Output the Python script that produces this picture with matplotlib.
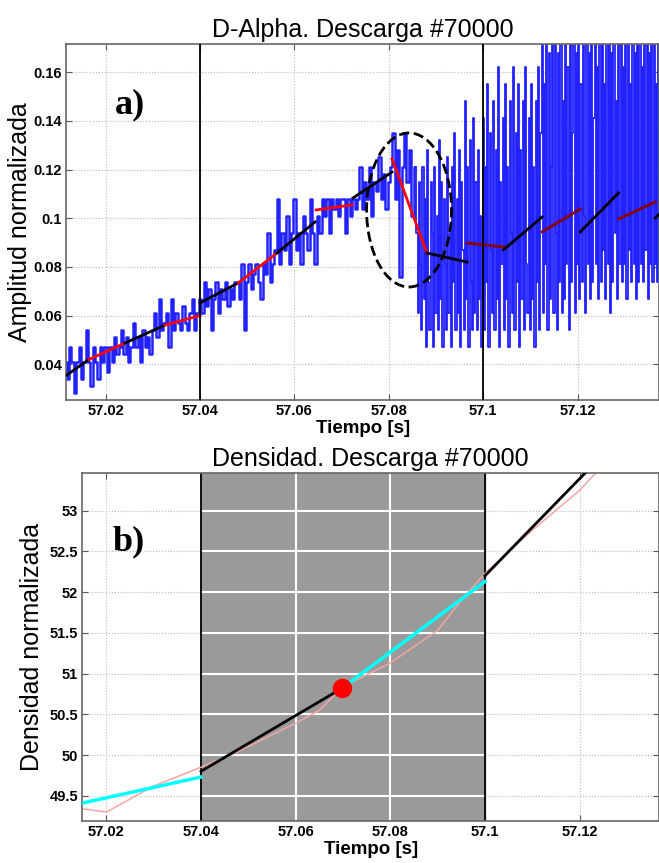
import numpy as np
import matplotlib.pyplot as plt
from matplotlib.patches import Ellipse

plt.rcParams['font.family'] = ['Liberation Sans', 'DejaVu Sans']

# ---- datos panel a) : D-Alpha, tramo inicial (cada 0.5 ms desde 57.0115 s)
t_start = 57.0115
dt = 0.0005
dalpha_a = [0.041, 0.034, 0.047, 0.041, 0.028, 0.041, 0.047, 0.034, 0.041, 0.054,
            0.041, 0.031, 0.047, 0.041, 0.034, 0.047, 0.041]
dalpha_b = [0.047, 0.037, 0.047, 0.041, 0.051, 0.044, 0.047, 0.054, 0.044, 0.051,
            0.041, 0.047, 0.057, 0.047, 0.051, 0.041, 0.054, 0.047, 0.051, 0.044]
dalpha_c = [0.054, 0.061, 0.051, 0.067, 0.054, 0.057, 0.061, 0.047, 0.067, 0.054,
            0.061, 0.057, 0.054, 0.064, 0.057, 0.054, 0.061, 0.067, 0.054, 0.061]
dalpha_d = [0.067, 0.061, 0.074, 0.064, 0.071, 0.054, 0.067, 0.074, 0.061, 0.071,
            0.067, 0.074, 0.064, 0.071, 0.067, 0.074]
dalpha_e = [0.074, 0.067, 0.081, 0.054, 0.074, 0.081, 0.071, 0.077, 0.081, 0.074,
            0.067, 0.081, 0.077, 0.094, 0.074, 0.081]
dalpha_f = [0.087, 0.108, 0.081, 0.094, 0.087, 0.101, 0.081, 0.094, 0.108, 0.087,
            0.094, 0.081, 0.101, 0.094, 0.087, 0.108, 0.094, 0.081, 0.101, 0.094]
dalpha_g = [0.108, 0.101, 0.108, 0.094, 0.108, 0.104, 0.108, 0.101, 0.108, 0.108,
            0.094, 0.108, 0.101, 0.108, 0.104]
dalpha_h = [0.108, 0.121, 0.104, 0.115, 0.108, 0.121, 0.101, 0.115, 0.111, 0.125,
            0.108, 0.118, 0.104, 0.115]
dalpha_i = [0.121, 0.135, 0.108, 0.128, 0.076, 0.121, 0.135, 0.115, 0.128, 0.101, 0.121]

# tramo turbulento (cada 0.25 ms desde 57.0860 s)
t_late = 57.0860
dt_late = 0.00025
dalpha_j = [0.094, 0.061, 0.115, 0.081, 0.054, 0.121, 0.067, 0.108, 0.047, 0.128,
            0.074, 0.054, 0.115, 0.094, 0.047, 0.121, 0.061, 0.101, 0.054, 0.132,
            0.067, 0.115, 0.047, 0.108, 0.081, 0.054, 0.125, 0.061, 0.094, 0.047,
            0.121, 0.074, 0.135, 0.054, 0.108, 0.061, 0.128, 0.047, 0.115, 0.087,
            0.054, 0.148, 0.067, 0.121, 0.047, 0.132, 0.074, 0.054, 0.141, 0.061,
            0.115, 0.054, 0.128, 0.067, 0.101, 0.047]
dalpha_k = [0.141, 0.054, 0.121, 0.074, 0.155, 0.047, 0.135, 0.087, 0.061, 0.148,
            0.054, 0.128, 0.067, 0.162, 0.047, 0.115, 0.081, 0.141, 0.054, 0.155,
            0.067, 0.121, 0.047, 0.148, 0.094, 0.061, 0.162, 0.054, 0.135, 0.074,
            0.155, 0.047, 0.128, 0.067, 0.148, 0.054, 0.162, 0.081, 0.061, 0.141,
            0.054, 0.155, 0.067, 0.121, 0.047, 0.148, 0.074, 0.162, 0.054, 0.135]
dalpha_l = [0.175, 0.061, 0.155, 0.081, 0.175, 0.054, 0.168, 0.067, 0.121, 0.175,
            0.061, 0.175, 0.094, 0.054, 0.168, 0.074, 0.175, 0.061, 0.148, 0.067,
            0.175, 0.081, 0.162, 0.054, 0.175, 0.074, 0.135, 0.175, 0.061, 0.168,
            0.081, 0.175, 0.067, 0.155, 0.074, 0.175, 0.101, 0.061, 0.175, 0.081,
            0.168, 0.067, 0.175, 0.074, 0.141, 0.175, 0.081, 0.162, 0.067, 0.175,
            0.074, 0.175, 0.087, 0.155, 0.067, 0.175, 0.081, 0.175, 0.061, 0.168,
            0.074, 0.175, 0.094, 0.148, 0.067, 0.175, 0.081, 0.175, 0.074, 0.162,
            0.081, 0.175, 0.067, 0.175, 0.087, 0.155, 0.074, 0.175, 0.081, 0.168,
            0.067, 0.175, 0.074, 0.175, 0.081, 0.162, 0.074, 0.175, 0.087, 0.175,
            0.067, 0.168, 0.081, 0.175, 0.074, 0.175, 0.081, 0.155, 0.074, 0.175]

# tramos de ajuste lineal (inicio, fin)
fit_t0 = [57.0118, 57.0165, 57.0241, 57.0326, 57.0400, 57.0481, 57.0563, 57.0646, 57.0724,
          57.0807, 57.0881, 57.0966, 57.1043, 57.1125, 57.1206, 57.1287, 57.1365]
fit_t1 = [57.0165, 57.0241, 57.0326, 57.0400, 57.0481, 57.0563, 57.0644, 57.0722, 57.0807,
          57.0881, 57.0966, 57.1043, 57.1125, 57.1206, 57.1287, 57.1365, 57.1380]
fit_y0 = [0.0356, 0.0420, 0.0487, 0.0561, 0.0652, 0.0734, 0.0857, 0.1034, 0.1083,
          0.1244, 0.0857, 0.0898, 0.0870, 0.0944, 0.0944, 0.0997, 0.1001]
fit_y1 = [0.0420, 0.0487, 0.0561, 0.0600, 0.0734, 0.0857, 0.0985, 0.1055, 0.1190,
          0.0857, 0.0820, 0.0882, 0.1005, 0.1038, 0.1104, 0.1067, 0.1030]
fit_col = ['k', 'r', 'k', 'r', 'k', 'r', 'k', 'r', 'k',
           'r', 'k', '#8b0000', 'k', '#8b0000', 'k', '#8b0000', 'k']

window = [57.04, 57.10]
ell_center = (57.0843, 0.1034)
ell_size = (0.0180, 0.0633)

# ---- datos panel b) : densidad
dens_t = [57.0149, 57.020, 57.030, 57.040, 57.047, 57.060, 57.065, 57.070,
          57.080, 57.090, 57.095, 57.100, 57.110, 57.120, 57.124]
dens_y = [49.34, 49.30, 49.62, 49.85, 50.02, 50.39, 50.55, 50.84,
          51.13, 51.53, 51.90, 52.23, 52.76, 53.25, 53.50]
cyan_t = [[57.0149, 57.040], [57.0698, 57.100]]
cyan_y = [[49.41, 49.73], [50.82, 52.13]]
black_t = [[57.040, 57.0698], [57.100, 57.125]]
black_y = [[49.80, 50.82], [52.20, 53.69]]
dot_t, dot_y = 57.0698, 50.82

xt = [57.02, 57.04, 57.06, 57.08, 57.10, 57.12]
xt_lab = ['57.02', '57.04', '57.06', '57.08', '57.1', '57.12']
yt_a = [0.04, 0.06, 0.08, 0.10, 0.12, 0.14, 0.16]
yt_a_lab = ['0.04', '0.06', '0.08', '0.1', '0.12', '0.14', '0.16']
yt_b = [49.5, 50, 50.5, 51, 51.5, 52, 52.5, 53]
yt_b_lab = ['49.5', '50', '50.5', '51', '51.5', '52', '52.5', '53']

fig = plt.figure(figsize=(6.59, 8.63), dpi=100)


def estilo(ax, yt, ylab):
    ax.set_xticks(xt, xt_lab)
    ax.set_yticks(yt, ylab)
    ax.tick_params(direction='in', length=4, top=True, right=True, pad=3,
                   color='#555555', labelsize=10.5)
    for lab in ax.get_xticklabels() + ax.get_yticklabels():
        lab.set_fontweight('bold')
    ax.grid(True, linestyle=':', color='#bbbbbb', linewidth=0.8)
    for s in ax.spines.values():
        s.set_color('#666666')
        s.set_linewidth(1.2)


# ---------- panel a)
ax1 = fig.add_axes([0.1002, 0.5365, 0.9000, 0.4125])
early = dalpha_a + dalpha_b + dalpha_c + dalpha_d + dalpha_e + dalpha_f + \
    dalpha_g + dalpha_h + dalpha_i
late = dalpha_j + dalpha_k + dalpha_l
t1 = t_start + dt * np.arange(len(early))
t2 = t_late + dt_late * np.arange(len(late))
ax1.plot(t1, early, color='#2222ff', lw=1.8, drawstyle='steps-mid', zorder=2)
ax1.plot(np.r_[t1[-1], t2], [early[-1]] + late, color='#2222ff', lw=1.3,
         drawstyle='steps-mid', zorder=2)
for a, b, c, d, col in zip(fit_t0, fit_t1, fit_y0, fit_y1, fit_col):
    ax1.plot([a, b], [c, d], color=col, lw=2, zorder=3)
for w in window:
    ax1.axvline(w, color='k', lw=1.3, zorder=4)
ax1.add_patch(Ellipse(ell_center, ell_size[0], ell_size[1], fill=False,
                      linestyle='--', lw=2, edgecolor='k', zorder=5))
ax1.set_xlim(57.0116, 57.1373)
ax1.set_ylim(0.0253, 0.1716)
estilo(ax1, yt_a, yt_a_lab)
ax1.set_title('D-Alpha. Descarga #70000', fontsize=18, pad=5)
ax1.set_ylabel('Amplitud normalizada', fontsize=18, labelpad=1)
ax1.set_xlabel('Tiempo [s]', fontsize=13.5, fontweight='bold', labelpad=1)
ax1.text(0.083, 0.806, 'a)', transform=ax1.transAxes, fontsize=26,
         fontweight='bold', family='Liberation Serif')

# ---------- panel b)
ax2 = fig.add_axes([0.1249, 0.0487, 0.8751, 0.4029])
ax2.axvspan(window[0], window[1], color='#9a9a9a', zorder=1)
for y in yt_b:
    ax2.plot(window, [y, y], color='white', lw=1.5, zorder=1.7)
for x in xt:
    if window[0] < x < window[1]:
        ax2.axvline(x, color='white', lw=1.5, zorder=1.7)
for w in window:
    ax2.axvline(w, color='k', lw=1.3, zorder=1.8)
ax2.plot(dens_t, dens_y, color='#f4a6a6', lw=1.1, zorder=2)
for tt, yy in zip(black_t, black_y):
    ax2.plot(tt, yy, color='k', lw=2, zorder=3)
for tt, yy in zip(cyan_t, cyan_y):
    ax2.plot(tt, yy, color='#00ffff', lw=2.5, zorder=3)
ax2.plot(dot_t, dot_y, 'o', color='red', markersize=13, zorder=4)
ax2.set_xlim(57.0149, 57.1368)
ax2.set_ylim(49.19, 53.46)
estilo(ax2, yt_b, yt_b_lab)
ax2.set_title('Densidad. Descarga #70000', fontsize=18, pad=5)
ax2.set_ylabel('Densidad normalizada', fontsize=18, labelpad=4)
ax2.set_xlabel('Tiempo [s]', fontsize=13.5, fontweight='bold', labelpad=1)
ax2.text(0.053, 0.777, 'b)', transform=ax2.transAxes, fontsize=26,
         fontweight='bold', family='Liberation Serif')

fig.savefig('out.png', dpi=100)
